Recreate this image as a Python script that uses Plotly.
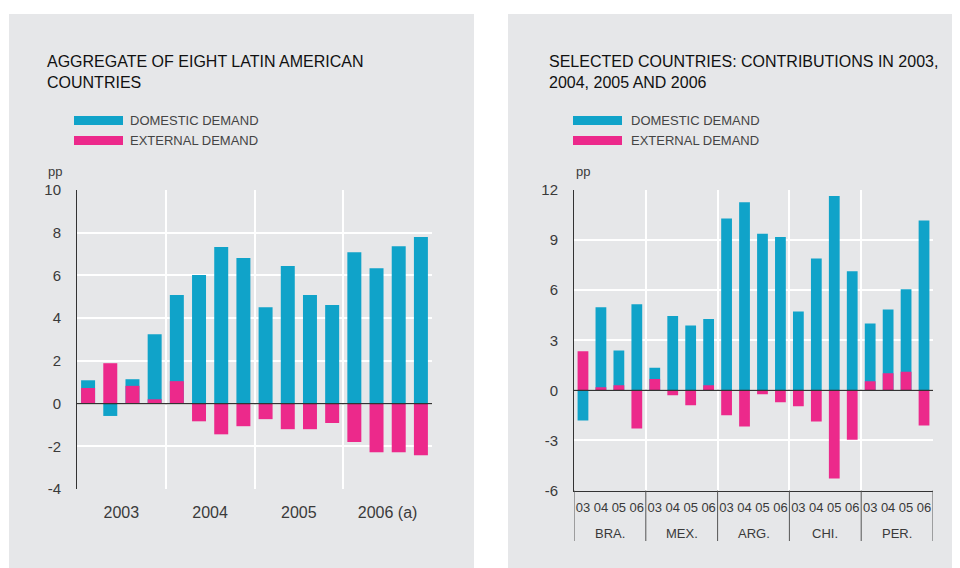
import plotly.graph_objects as go

W, H = 960, 568
OFF = 8  # the page body adds an 8 px margin; positions below are page pixels
BLUE = "#10a3c9"
PINK = "#ec298b"
PANEL = "#e6e7e9"
DARK = "#333333"
TEXT = "#3a3a3a"
FONT = "Liberation Sans, Arial, sans-serif"

series_names = ["DOMESTIC DEMAND", "EXTERNAL DEMAND"]
unit_label = "pp"

# ---- Left panel: aggregate of eight Latin American countries (quarterly)
agg_title = "AGGREGATE OF EIGHT LATIN AMERICAN<br>COUNTRIES"
agg_years = ["2003", "2004", "2005", "2006 (a)"]
agg_quarters = ["I", "II", "III", "IV"]
agg_domestic = [1.09, -0.58, 1.14, 3.25, 5.08, 6.02, 7.33, 6.82,
                4.51, 6.44, 5.08, 4.61, 7.09, 6.34, 7.37, 7.80]
agg_external = [0.73, 1.89, 0.83, 0.20, 1.05, -0.83, -1.44, -1.06,
                -0.73, -1.20, -1.20, -0.91, -1.80, -2.28, -2.28, -2.42]
agg_yticks = [-4, -2, 0, 2, 4, 6, 8, 10]
agg_yticktext = ["-4", "-2", "0", "2", "4", "6", "8", "10"]

# ---- Right panel: selected countries
cty_title = "SELECTED COUNTRIES: CONTRIBUTIONS IN 2003,<br>2004, 2005 AND 2006"
countries = ["BRA.", "MEX.", "ARG.", "CHI.", "PER."]
country_years = ["03", "04", "05", "06"]
cty_domestic = [-1.80, 4.98, 2.38, 5.16,
                1.36, 4.46, 3.88, 4.28,
                10.30, 11.26, 9.38, 9.18,
                4.72, 7.90, 11.64, 7.14,
                4.00, 4.84, 6.06, 10.18]
cty_external = [2.34, 0.18, 0.30, -2.28,
                0.68, -0.30, -0.90, 0.30,
                -1.50, -2.16, -0.24, -0.72,
                -0.96, -1.86, -5.28, -2.96,
                0.54, 1.02, 1.12, -2.10]
cty_yticks = [-6, -3, 0, 3, 6, 9, 12]
cty_yticktext = ["-6", "-3", "0", "3", "6", "9", "12"]

n_q = len(agg_quarters)
agg_x = list(range(len(agg_years) * n_q))
agg_tickvals = [i * n_q + (n_q - 1) / 2 for i in range(len(agg_years))]

n_cy = len(country_years)
cty_x = list(range(len(countries) * n_cy))
cty_ticktext = [y for _ in countries for y in country_years]
cty_centers = [i * n_cy + (n_cy - 1) / 2 for i in range(len(countries))]
cty_bounds = [i * n_cy - 0.5 for i in range(len(countries) + 1)]

fig = go.Figure()
fig.add_trace(go.Bar(x=agg_x, y=agg_domestic, name=series_names[0],
                     marker=dict(color=BLUE, line=dict(width=0)),
                     xaxis="x", yaxis="y", showlegend=False))
fig.add_trace(go.Bar(x=agg_x, y=agg_external, name=series_names[1],
                     marker=dict(color=PINK, line=dict(width=0)),
                     xaxis="x", yaxis="y", showlegend=False))
fig.add_trace(go.Bar(x=cty_x, y=cty_domestic, name=series_names[0],
                     marker=dict(color=BLUE, line=dict(width=0)),
                     xaxis="x2", yaxis="y2", showlegend=False, width=0.6))
fig.add_trace(go.Bar(x=cty_x, y=cty_external, name=series_names[1],
                     marker=dict(color=PINK, line=dict(width=0)),
                     xaxis="x2", yaxis="y2", showlegend=False, width=0.6))


def px_x(v):
    return (v - OFF) / W


def px_y(v):
    return 1 - (v - OFF) / H


tickfont = dict(family=FONT, size=15, color=TEXT)

fig.update_layout(
    width=W, height=H,
    autosize=False,
    margin=dict(l=0, r=0, t=0, b=0, pad=0, autoexpand=False),
    showlegend=False,
    paper_bgcolor="white",
    plot_bgcolor="rgba(0,0,0,0)",
    barmode="overlay",
    bargap=0.37,
    font=dict(family=FONT, color=TEXT),
    xaxis=dict(domain=[px_x(77), px_x(432)], anchor="y",
               range=[-0.5, len(agg_x) - 0.5], automargin=False,
               tickmode="array", tickvals=agg_tickvals, ticktext=agg_years,
               tickfont=dict(family=FONT, size=16, color=TEXT),
               ticks="outside", ticklen=9, tickcolor="rgba(0,0,0,0)",
               showgrid=False, zeroline=False, showline=False,
               minor=dict(tick0=-0.5, dtick=n_q, showgrid=True,
                          gridcolor="white", gridwidth=2, ticks="")),
    yaxis=dict(domain=[px_y(489), px_y(190)], anchor="x", automargin=False,
               range=[-4, 10], tickmode="array", tickvals=agg_yticks,
               ticktext=agg_yticktext,
               tickfont=tickfont, ticklabelstandoff=12,
               showgrid=True, gridcolor="white", gridwidth=2,
               zeroline=False,
               showline=True, linecolor=DARK, linewidth=1),
    xaxis2=dict(domain=[px_x(574), px_x(933)], anchor="y2", automargin=False,
                range=[-0.5, len(cty_x) - 0.5],
                tickmode="array", tickvals=cty_x, ticktext=cty_ticktext,
                tickangle=0,
                tickfont=dict(family=FONT, size=13, color=TEXT),
                ticks="outside", ticklen=5, tickcolor="rgba(0,0,0,0)",
                showgrid=False, zeroline=False,
                showline=True, linecolor=DARK, linewidth=1,
                minor=dict(tick0=-0.5, dtick=n_cy, showgrid=True,
                           gridcolor="white", gridwidth=2, ticks="")),
    yaxis2=dict(domain=[px_y(490.5), px_y(190)], anchor="x2", automargin=False,
                range=[-6, 12], tickmode="array", tickvals=cty_yticks,
                ticktext=cty_yticktext,
                tickfont=tickfont, ticklabelstandoff=12,
                showgrid=True, gridcolor="white", gridwidth=2,
                zeroline=False,
                showline=True, linecolor=DARK, linewidth=1),
)

shapes = []
# panel backgrounds
shapes.append(dict(type="rect", xref="paper", yref="paper", layer="below",
                   x0=px_x(9), x1=px_x(474), y0=0, y1=px_y(14),
                   fillcolor=PANEL, line=dict(width=0)))
shapes.append(dict(type="rect", xref="paper", yref="paper", layer="below",
                   x0=px_x(508), x1=1, y0=0, y1=px_y(14),
                   fillcolor=PANEL, line=dict(width=0)))
# zero lines drawn over the bars
for xr, yr in [("x domain", "y"), ("x2 domain", "y2")]:
    shapes.append(dict(type="line", xref=xr, yref=yr, layer="above",
                       x0=0, x1=1, y0=0, y1=0,
                       line=dict(color=DARK, width=1.3)))
# group dividers under the right panel's axis
for xb in cty_bounds:
    shapes.append(dict(type="line", xref="x2", yref="paper", layer="above",
                       x0=xb, x1=xb, y0=px_y(541), y1=px_y(490.5),
                       line=dict(color="#555555", width=1)))

annotations = []
# country labels
for xc, name in zip(cty_centers, countries):
    annotations.append(dict(xref="x2", yref="paper", x=xc, y=px_y(533),
                            text=name, showarrow=False, xanchor="center",
                            yanchor="middle",
                            font=dict(family=FONT, size=13, color=TEXT)))

# legend swatches (drawn manually for the wide rectangles)
for lx, tx in [(74, 130), (573, 631)]:
    for i, (name, col) in enumerate(zip(series_names, [BLUE, PINK])):
        yc = 120.5 + 20 * i
        shapes.append(dict(type="rect", xref="paper", yref="paper", layer="above",
                           x0=px_x(lx), x1=px_x(lx + 49),
                           y0=px_y(yc + 4.5), y1=px_y(yc - 4.5),
                           fillcolor=col, line=dict(width=0)))
        annotations.append(dict(xref="paper", yref="paper", x=px_x(tx - 2), y=px_y(yc),
                                text=name, showarrow=False, xanchor="left",
                                yanchor="middle",
                                font=dict(family=FONT, size=13, color="#444444")))

for tx, title in [(45, agg_title), (547, cty_title)]:
    annotations.append(dict(xref="paper", yref="paper", x=px_x(tx), y=px_y(72),
                            text=title, showarrow=False, xanchor="left",
                            yanchor="middle", align="left",
                            font=dict(family=FONT, size=16, color="#111111")))

for tx in [46, 574]:
    annotations.append(dict(xref="paper", yref="paper", x=px_x(tx), y=px_y(171),
                            text=unit_label, showarrow=False, xanchor="left",
                            yanchor="middle",
                            font=dict(family=FONT, size=13, color=TEXT)))

fig.update_layout(shapes=shapes, annotations=annotations)

fig.write_html("out.html", config={"displayModeBar": False})
